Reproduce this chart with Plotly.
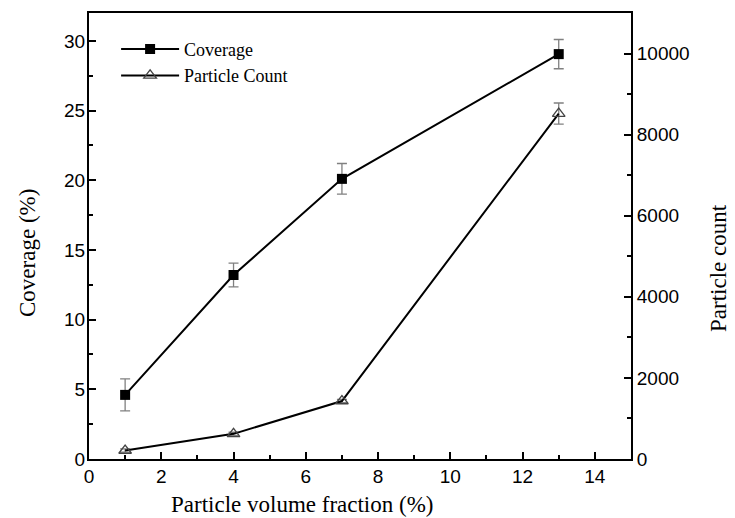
import plotly.graph_objects as go

fraction = [1, 4, 7, 13]
coverage = [4.6, 13.2, 20.1, 29.05]
coverage_err = [1.15, 0.85, 1.1, 1.05]
count = [210, 620, 1430, 8520]
count_err = [40, 40, 40, 260]

serif = "Liberation Serif, Times New Roman, serif"
sans = "Liberation Sans, Arial, sans-serif"

fig = go.Figure()
fig.add_trace(go.Scatter(
    x=fraction, y=coverage, name="Coverage", mode="lines+markers",
    line=dict(color="black", width=2),
    marker=dict(symbol="square", size=10, color="black"),
    error_y=dict(type="data", array=coverage_err, color="#808080", thickness=1.3, width=5),
    yaxis="y"))
fig.add_trace(go.Scatter(
    x=fraction, y=count, name="Particle Count", mode="lines+markers",
    line=dict(color="black", width=2),
    marker=dict(symbol="triangle-up-open", size=11, color="#444", line=dict(width=1.3)),
    error_y=dict(type="data", array=count_err, color="#808080", thickness=1.3, width=5),
    yaxis="y2"))

axcommon = dict(showline=True, linecolor="black", linewidth=2, ticks="inside",
                tickcolor="black", tickwidth=1.5, ticklen=7, showgrid=False, zeroline=False,
                tickfont=dict(family=sans, size=19, color="black"))

fig.update_layout(
    width=735, height=518,
    margin=dict(l=89, r=104, t=13, b=59),
    plot_bgcolor="white", paper_bgcolor="white",
    showlegend=True,
    legend=dict(x=0.05, y=0.96, xanchor="left", yanchor="top",
                font=dict(family=serif, size=18, color="black"),
                bgcolor="rgba(0,0,0,0)", tracegroupgap=0, itemwidth=58),
    xaxis=dict(range=[0, 15], dtick=2, mirror=True, ticklabelstandoff=-1,
               minor=dict(dtick=1, ticks="inside", ticklen=4, tickcolor="black"),
               **axcommon),
    yaxis=dict(range=[0, 32], dtick=5, mirror=False, ticklabelstandoff=-2,
               minor=dict(dtick=2.5, ticks="inside", ticklen=4, tickcolor="black"),
               **axcommon),
    yaxis2=dict(range=[0, 11000], dtick=2000, overlaying="y", side="right", tickformat="d",
                minor=dict(dtick=1000, ticks="inside", ticklen=4, tickcolor="black"),
                **axcommon),
)
tfont = dict(family=serif, size=23, color="black")
fig.add_annotation(text="Particle volume fraction (%)", xref="paper", yref="paper",
                   x=(302 - 89) / 542, y=-(504 - 459) / 446, xanchor="center", yanchor="middle",
                   showarrow=False, font=tfont)
fig.add_annotation(text="Coverage (%)", xref="paper", yref="paper",
                   x=-(89 - 27) / 542, y=(459 - 253) / 446, xanchor="center", yanchor="middle",
                   textangle=-90, showarrow=False, font=tfont)
fig.add_annotation(text="Particle count", xref="paper", yref="paper",
                   x=1 + (718 - 631) / 542, y=(459 - 268) / 446, xanchor="center", yanchor="middle",
                   textangle=-90, showarrow=False, font=tfont)
fig.write_html("out.html")
